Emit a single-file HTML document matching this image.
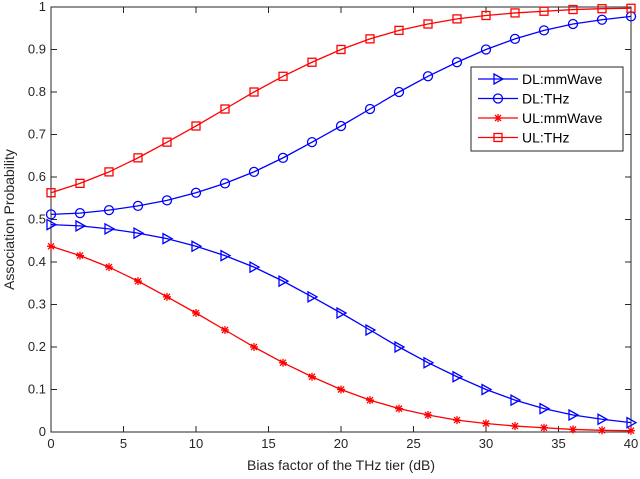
<!DOCTYPE html>
<html><head><meta charset="utf-8"><style>
body{margin:0;background:#fff}
svg{display:block;font-family:"Liberation Sans",sans-serif}
</style></head><body>
<svg id="chart" width="640" height="479" xmlns="http://www.w3.org/2000/svg"></svg>
<script>
const xValues=[0,2,4,6,8,10,12,14,16,18,20,22,24,26,28,30,32,34,36,38,40];
const dlMmWave=[0.488,0.485,0.478,0.468,0.455,0.437,0.415,0.388,0.355,0.318,0.28,0.24,0.2,0.163,0.13,0.1,0.075,0.055,0.04,0.03,0.022];
const dlTHz=[0.512,0.515,0.522,0.532,0.545,0.563,0.585,0.612,0.645,0.682,0.72,0.76,0.80,0.837,0.87,0.90,0.925,0.945,0.96,0.97,0.978];
const ulMmWave=[0.437,0.415,0.388,0.355,0.318,0.28,0.24,0.2,0.163,0.13,0.1,0.075,0.055,0.04,0.028,0.02,0.014,0.01,0.006,0.004,0.003];
const ulTHz=[0.563,0.585,0.612,0.645,0.682,0.72,0.76,0.80,0.837,0.87,0.9,0.925,0.945,0.96,0.972,0.98,0.986,0.99,0.994,0.996,0.997];
const xTicks=[0,5,10,15,20,25,30,35,40];
const yTicks=[0,0.1,0.2,0.3,0.4,0.5,0.6,0.7,0.8,0.9,1];
const yTickLabels=["0","0.1","0.2","0.3","0.4","0.5","0.6","0.7","0.8","0.9","1"];
const L=51,R=631,T=7,B=432;
const sx=v=>L+(v-0)/40*(R-L);
const sy=v=>B-v*(B-T);
const svg=document.getElementById('chart');
const NS='http://www.w3.org/2000/svg';
function mk(tag,attrs,parent){const e=document.createElementNS(NS,tag);for(const k in attrs)e.setAttribute(k,attrs[k]);(parent||svg).appendChild(e);return e;}
const axes=mk('g',{});


mk('rect',{x:L,y:T,width:R-L,height:B-T,fill:'#fff',stroke:'#262626','stroke-width':1},axes);
xTicks.forEach(t=>{
  const x=sx(t);
  mk('line',{x1:x,x2:x,y1:B,y2:B-6,stroke:'#262626'},axes);
  mk('line',{x1:x,x2:x,y1:T,y2:T+6,stroke:'#262626'},axes);
  const tx=mk('text',{x:x,y:B+16,'text-anchor':'middle','font-size':13,fill:'#262626'},axes);
  tx.textContent=t;
  
  
});
yTicks.forEach((t,i)=>{
  const y=sy(t);
  mk('line',{x1:L,x2:L+6,y1:y,y2:y,stroke:'#262626'},axes);
  mk('line',{x1:R,x2:R-6,y1:y,y2:y,stroke:'#262626'},axes);
  const tx=mk('text',{x:L-5,y:y+4,'text-anchor':'end','font-size':13,fill:'#262626'},axes);
  tx.textContent=yTickLabels[i];
  
  
});
const xt=mk('text',{x:(L+R)/2,y:470,'text-anchor':'middle','font-size':14,fill:'#262626'});
xt.textContent='Bias factor of the THz tier (dB)';


const yt=mk('text',{x:0,y:0,'text-anchor':'middle','font-size':14,fill:'#262626',transform:'translate(14,'+((T+B)/2)+') rotate(-90)'});
yt.textContent='Association Probability';


function marker(g,type,x,y,c){
  if(type==='tri') mk('polygon',{points:`${x-4},${y-5} ${x-4},${y+5} ${x+5},${y}`,fill:'none',stroke:c,'stroke-width':1.3},g);
  else if(type==='circ') mk('circle',{cx:x,cy:y,r:4.5,fill:'none',stroke:c,'stroke-width':1.3},g);
  else if(type==='sq') mk('rect',{x:x-4,y:y-4,width:8,height:8,fill:'none',stroke:c,'stroke-width':1.3},g);
  else { [[-4,0,4,0],[0,-4,0,4],[-3,-3,3,3],[-3,3,3,-3]].forEach(d=>mk('line',{x1:x+d[0],y1:y+d[1],x2:x+d[2],y2:y+d[3],stroke:c,'stroke-width':1.3},g)); }
}
const series=[
 {name:'dl-mmwave-series',vals:dlMmWave,c:'#0000ff',m:'tri',label:'DL:mmWave'},
 {name:'dl-thz-series',vals:dlTHz,c:'#0000ff',m:'circ',label:'DL:THz'},
 {name:'ul-mmwave-series',vals:ulMmWave,c:'#ff0000',m:'star',label:'UL:mmWave'},
 {name:'ul-thz-series',vals:ulTHz,c:'#ff0000',m:'sq',label:'UL:THz'}
];
series.forEach(s=>{
  const g=mk('g',{});
  
  
  mk('polyline',{points:s.vals.map((v,i)=>sx(xValues[i])+','+sy(v)).join(' '),fill:'none',stroke:s.c,'stroke-width':1.3},g);
  s.vals.forEach((v,i)=>marker(g,s.m,sx(xValues[i]),sy(v),s.c));
});
const lg=mk('g',{});


mk('rect',{x:471,y:67,width:152,height:84,fill:'#fff',stroke:'#262626','stroke-width':1},lg);
series.forEach((s,i)=>{
  const y=79+i*19.5;
  const e=mk('g',{},lg);
  
  
  mk('line',{x1:478,x2:518,y1:y,y2:y,stroke:s.c,'stroke-width':1.3},e);
  marker(e,s.m,498,y,s.c);
  const t=mk('text',{x:522,y:y+5,'font-size':14,fill:'#000'},e);
  t.textContent=s.label;
});
</script>
</body></html>
